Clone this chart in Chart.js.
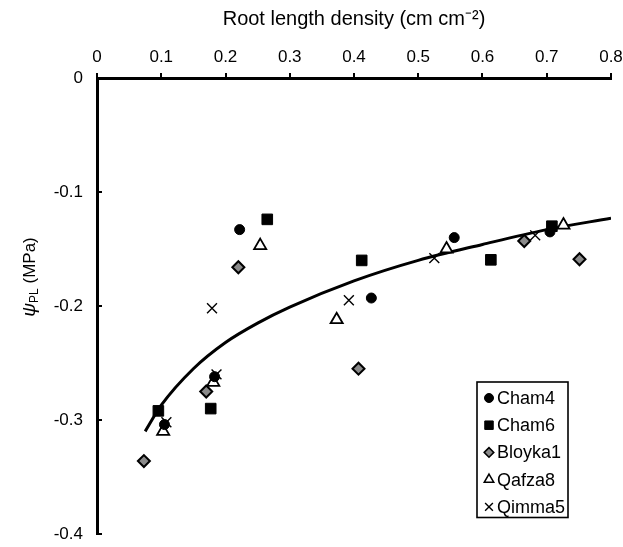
<!DOCTYPE html>
<html>
<head>
<meta charset="utf-8">
<script src="https://cdn.jsdelivr.net/npm/chart.js@4.4.1/dist/chart.umd.min.js"></script>
<style>
html, body { margin: 0; padding: 0; background: #fff; }
#wrap { width: 623px; height: 547px; }
</style>
</head>
<body>
<div id="wrap"><canvas id="myChart" width="623" height="547"></canvas></div>
<script>
// values
var seriesNames = ['Cham4', 'Cham6', 'Bloyka1', 'Qafza8', 'Qimma5'];

var cham4X = [0.105, 0.183, 0.222, 0.427, 0.556, 0.705];
var cham4Y = [-0.304, -0.262, -0.133, -0.193, -0.140, -0.135];

var cham6X = [0.0955, 0.177, 0.265, 0.412, 0.613, 0.708];
var cham6Y = [-0.292, -0.290, -0.124, -0.160, -0.1595, -0.130];

var bloyka1X = [0.073, 0.170, 0.220, 0.407, 0.665, 0.751];
var bloyka1Y = [-0.336, -0.275, -0.166, -0.255, -0.143, -0.159];

var qafza8X = [0.103, 0.181, 0.254, 0.373, 0.544, 0.726];
var qafza8Y = [-0.310, -0.267, -0.147, -0.212, -0.150, -0.129];

var qimma5X = [0.108, 0.186, 0.179, 0.392, 0.525, 0.682];
var qimma5Y = [-0.302, -0.260, -0.202, -0.195, -0.158, -0.138];

// fitted curve, read at a few x positions
var fitX = [0.075, 0.1, 0.15, 0.2, 0.25, 0.3, 0.4, 0.5, 0.6, 0.7, 0.8];
var fitY = [-0.310, -0.287, -0.255, -0.232, -0.215, -0.201, -0.178, -0.160, -0.146, -0.133, -0.123];

var xMin = 0, xMax = 0.8, xStep = 0.1;
var yMin = -0.4, yMax = 0, yStep = 0.1;

var FONT = '"Liberation Sans", Arial, sans-serif';

function pts(xs, ys) {
    return xs.map(function (x, i) { return { x: x, y: ys[i] }; });
}

function fmt(v) {
    return String(Number(v.toFixed(1)));
}

(function () {
    var ctx = document.getElementById('myChart');

    var markers = [
        { pointStyle: 'circle', radius: 5, bg: '#000', border: '#000', bw: 1, legendR: 4.5 },
        { pointStyle: 'rect', radius: 7.5, bg: '#000', border: '#000', bw: 1, legendR: 6 },
        { pointStyle: 'rectRot', radius: 6, bg: '#8a8a8a', border: '#000', bw: 2, legendR: 4.8 },
        { pointStyle: 'triangle', radius: 7, bg: '#fff', border: '#000', bw: 1.8, legendR: 5.5 },
        { pointStyle: 'crossRot', radius: 7, bg: '#000', border: '#000', bw: 1.4, legendR: 5.5 }
    ];
    var xs = [cham4X, cham6X, bloyka1X, qafza8X, qimma5X];
    var ys = [cham4Y, cham6Y, bloyka1Y, qafza8Y, qimma5Y];

    var datasets = seriesNames.map(function (name, i) {
        var m = markers[i];
        return {
            label: name,
            data: pts(xs[i], ys[i]),
            pointStyle: m.pointStyle,
            pointRadius: m.radius,
            backgroundColor: m.bg,
            borderColor: m.border,
            borderWidth: m.bw
        };
    });

    datasets.push({
        label: 'fit',
        data: pts(fitX, fitY),
        showLine: true,
        pointRadius: 0,
        borderColor: '#000',
        borderWidth: 3,
        cubicInterpolationMode: 'monotone',
        fill: false,
        order: 10
    });

    var innerTicks = {
        id: 'innerTicks',
        afterDraw: function (chart) {
            var c = chart.ctx, y = chart.scales.y, left = chart.chartArea.left;
            c.save();
            c.strokeStyle = '#000';
            c.lineWidth = 2;
            y.ticks.forEach(function (t) {
                var py = y.getPixelForValue(t.value);
                c.beginPath();
                c.moveTo(left, py);
                c.lineTo(left + 5, py);
                c.stroke();
            });
            c.restore();
        }
    };

    var yTitle = {
        id: 'yTitle',
        afterDraw: function (chart) {
            var c = chart.ctx;
            var main = '17px ' + FONT, greek = 'italic 19px ' + FONT, sub = '12px ' + FONT;
            c.save();
            c.fillStyle = '#000';
            c.textBaseline = 'middle';
            c.font = greek; var w1 = c.measureText('\u03C8').width;
            c.font = sub; var w2 = c.measureText('PL').width;
            c.font = main; var w3 = c.measureText(' (MPa)').width;
            var total = w1 + w2 + w3;
            c.translate(30, 277);
            c.rotate(-Math.PI / 2);
            var x = -total / 2;
            c.font = greek; c.fillText('\u03C8', x, 0); x += w1;
            c.font = sub; c.fillText('PL', x, 5); x += w2;
            c.font = main; c.fillText(' (MPa)', x, 0);
            c.restore();
        }
    };

    var legendBox = {
        id: 'legendBox',
        afterDraw: function (chart) {
            var c = chart.ctx, a = chart.chartArea;
            var left = a.right - 134, top = a.bottom - 152, w = 91, h = 135.5;
            c.save();
            c.fillStyle = '#fff';
            c.fillRect(left, top, w, h);
            c.strokeStyle = '#000';
            c.lineWidth = 1.6;
            c.strokeRect(left, top, w, h);
            c.font = '18px ' + FONT;
            c.textBaseline = 'middle';
            seriesNames.forEach(function (name, i) {
                var m = markers[i];
                var yy = top + 16 + i * 27.2;
                c.fillStyle = m.bg;
                c.strokeStyle = m.border;
                c.lineWidth = Math.min(m.bw, 1.5);
                Chart.helpers.drawPoint(c, {
                    pointStyle: m.pointStyle,
                    radius: m.legendR,
                    rotation: 0,
                    borderWidth: Math.min(m.bw, 1.5)
                }, left + 12, yy);
                c.fillStyle = '#000';
                c.fillText(name, left + 20, yy + 1);
            });
            c.restore();
        }
    };

    new Chart(ctx, {
        type: 'scatter',
        data: { datasets: datasets },
        options: {
            responsive: false,
            animation: false,
            devicePixelRatio: 1,
            layout: { padding: { left: 0, right: 12, top: 0, bottom: 13 } },
            plugins: {
                legend: { display: false },
                tooltip: { enabled: false }
            },
            scales: {
                x: {
                    type: 'linear',
                    position: 'top',
                    min: xMin,
                    max: xMax,
                    afterFit: function (s) {
                        s.height = 78;
                        s.paddingLeft = 0;
                        s.paddingRight = 0;
                    },
                    ticks: {
                        stepSize: xStep,
                        color: '#000',
                        padding: 5,
                        font: { family: FONT, size: 17 },
                        callback: function (v) { return fmt(v); }
                    },
                    grid: {
                        drawOnChartArea: false,
                        drawTicks: true,
                        tickLength: 5,
                        lineWidth: 2,
                        color: '#000'
                    },
                    border: { display: true, color: '#000', width: 3 },
                    title: {
                        display: true,
                        text: 'Root length density (cm cm\u207B\u00B2)',
                        color: '#000',
                        font: { family: FONT, size: 20 },
                        padding: { top: 7, bottom: 0 }
                    }
                },
                y: {
                    type: 'linear',
                    min: yMin,
                    max: yMax,
                    afterFit: function (s) {
                        s.width = 97;
                        s.paddingTop = 0;
                        s.paddingBottom = 0;
                    },
                    ticks: {
                        stepSize: yStep,
                        color: '#000',
                        padding: 14,
                        font: { family: FONT, size: 17 },
                        callback: function (v) { return fmt(v); }
                    },
                    grid: { drawOnChartArea: false, drawTicks: false },
                    border: { display: true, color: '#000', width: 3 }
                }
            }
        },
        plugins: [innerTicks, yTitle, legendBox]
    });
})();
</script>
</body>
</html>
